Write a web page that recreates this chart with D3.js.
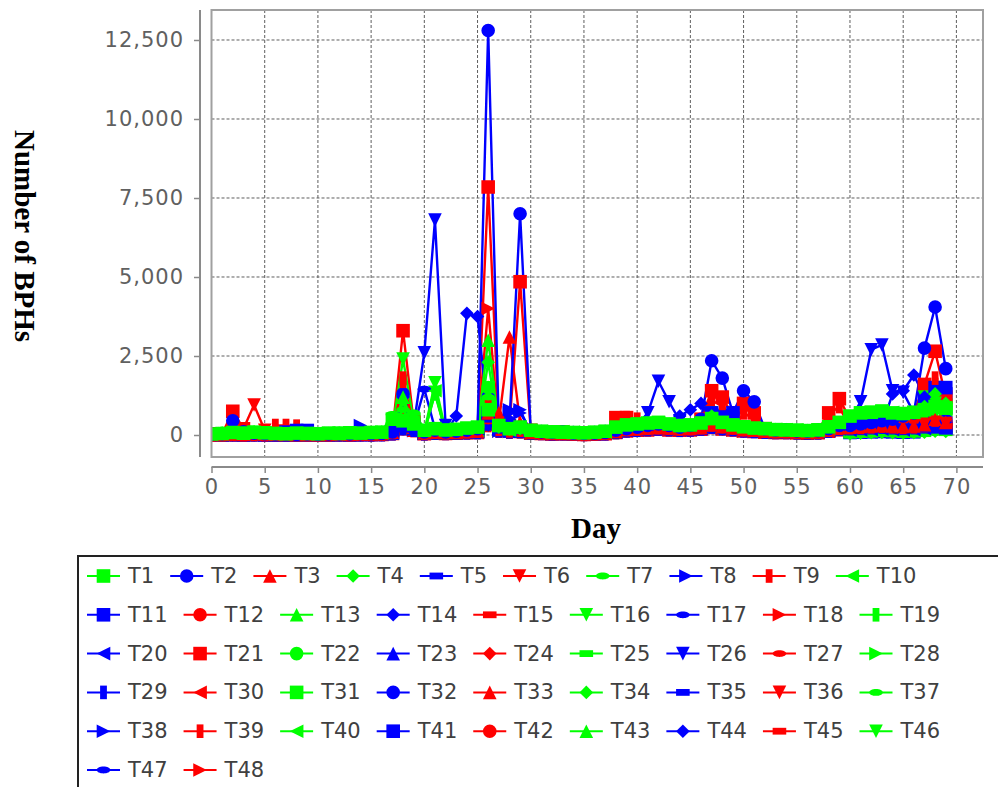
<!DOCTYPE html>
<html><head><meta charset="utf-8">
<script src="https://cdn.jsdelivr.net/npm/d3@7"></script>
<style>
body{margin:0;background:#fff;}
svg{display:block;}
</style></head>
<body>
<svg id="chart" width="998" height="787"></svg>
<script>
const days = [0,1,2,3,4,5,6,7,8,9,10,11,12,13,14,15,16,17,18,19,20,21,22,23,24,25,26,27,28,29,30,31,32,33,34,35,36,37,38,39,40,41,42,43,44,45,46,47,48,49,50,51,52,53,54,55,56,57,58,59,60,61,62,63,64,65,66,67,68,69];
const yTicks = [0,2500,5000,7500,10000,12500];
const xTicks = [0,5,10,15,20,25,30,35,40,45,50,55,60,65,70];
const seriesNames = ["T1","T2","T3","T4","T5","T6","T7","T8","T9","T10","T11","T12","T13","T14","T15","T16","T17","T18","T19","T20","T21","T22","T23","T24","T25","T26","T27","T28","T29","T30","T31","T32","T33","T34","T35","T36","T37","T38","T39","T40","T41","T42","T43","T44","T45","T46","T47","T48"];

const T1=[30,50,80,60,90,70,50,40,60,50,40,60,50,70,60,80,90,500,450,350,150,200,160,180,220,250,800,300,200,250,150,120,100,90,80,70,90,120,250,320,350,380,400,350,300,320,380,520,400,320,260,220,200,170,160,150,140,160,260,400,600,700,720,760,700,680,720,800,900,850];
const T2=[20,40,450,100,60,40,30,30,20,30,20,30,30,30,40,40,50,100,300,200,100,150,100,120,150,200,12800,300,400,7000,150,100,80,90,60,50,60,80,150,200,250,300,350,300,250,300,500,2350,1800,700,1400,1050,200,150,150,130,120,140,200,300,300,350,400,450,500,600,700,2750,4050,2100];
const T3=[10,20,30,20,40,30,20,20,10,20,10,20,30,20,30,30,40,90,500,250,70,100,80,90,110,130,700,400,3100,400,90,70,50,60,40,30,40,60,120,180,200,220,240,220,200,210,240,320,260,220,170,150,130,110,110,100,90,100,160,230,250,270,290,310,290,270,290,330,500,400];
const T4=[10,30,40,30,50,40,30,30,20,30,20,30,40,30,40,50,60,400,600,500,100,120,90,110,140,160,2300,250,180,200,110,90,70,80,60,50,70,90,180,260,300,330,360,320,290,310,360,600,380,300,240,200,180,150,150,130,120,140,230,320,520,620,680,720,660,620,680,900,1300,1000];
const T5=[0,10,20,10,20,10,10,200,250,250,10,10,20,10,20,20,30,60,200,150,50,80,60,70,90,100,500,150,120,130,80,60,50,50,40,30,40,50,100,150,180,200,220,200,180,190,220,300,230,200,160,140,120,100,100,90,80,90,150,220,250,260,280,300,280,260,250,200,150,120];
const T6=[20,30,100,200,950,150,30,30,20,30,20,30,30,30,40,40,50,100,400,300,80,110,90,100,120,140,600,200,150,170,100,80,60,70,50,40,50,70,140,200,220,240,260,240,220,230,260,340,270,230,180,160,140,120,120,110,100,110,170,240,260,280,300,320,300,280,300,340,400,360];
const T7=[50,60,100,80,120,90,70,60,50,60,50,50,60,60,70,70,100,650,800,700,200,250,200,220,260,300,1200,350,250,300,180,150,130,110,100,90,100,140,260,350,380,420,450,400,350,360,420,550,450,380,300,250,230,200,190,170,160,180,280,420,650,780,800,820,760,720,780,850,950,900];
const T8=[10,20,30,20,30,20,10,10,10,20,10,20,20,30,300,40,50,100,250,180,70,100,80,90,110,130,600,250,800,700,150,100,60,70,50,40,50,70,140,200,220,240,260,240,220,230,260,350,280,240,190,160,140,120,120,100,100,110,180,270,300,320,340,360,330,310,330,380,450,400];
const T9=[0,10,20,10,20,10,300,300,280,10,10,10,20,10,20,20,30,80,1700,300,60,90,70,80,100,120,1000,180,130,150,80,60,50,50,40,30,40,60,110,170,190,210,230,210,190,200,230,1300,1000,300,900,600,120,100,100,90,80,90,150,210,230,240,260,280,260,240,260,300,1800,1000];
const T10=[0,20,30,20,40,30,20,20,10,20,10,20,30,20,30,40,50,300,400,300,80,1400,80,100,120,140,1500,200,150,150,100,80,60,70,50,40,60,80,160,220,250,280,300,280,250,270,300,400,330,280,220,180,160,140,140,120,110,130,200,300,480,560,600,650,620,580,640,720,850,800];
const T11=[0,10,20,10,20,10,10,10,0,10,0,10,20,10,20,20,30,70,400,250,60,90,70,80,100,120,700,180,130,150,90,70,50,60,40,30,40,60,120,180,200,220,240,220,200,210,240,700,600,700,180,150,130,110,110,100,90,100,160,240,280,300,300,320,300,280,300,900,1500,1500];
const T12=[10,20,40,30,40,30,20,20,10,20,10,20,30,20,30,30,40,90,350,250,70,100,80,90,110,130,550,200,150,160,90,70,50,60,40,30,40,60,120,180,200,220,240,220,200,210,240,320,260,220,170,150,130,110,110,100,90,100,160,230,250,260,280,300,280,260,280,320,380,350];
const T13=[40,60,90,70,100,80,60,60,40,50,40,50,60,50,60,70,90,180,1200,300,120,160,130,150,180,200,3000,280,200,220,130,110,90,100,80,70,80,110,220,300,320,350,380,340,300,310,350,480,380,320,260,220,200,170,170,150,140,160,260,380,560,640,700,730,680,650,700,780,1100,900];
const T14=[0,0,10,0,10,0,0,0,0,0,0,0,10,0,10,10,20,60,700,200,50,80,60,600,3850,3750,500,150,110,120,70,60,40,50,30,20,30,50,100,160,180,200,220,300,600,800,1000,500,400,300,160,130,110,90,90,80,70,80,130,200,250,260,280,300,1300,1400,1900,1200,900,700];
const T15=[0,10,20,10,20,10,10,10,0,10,0,10,20,10,20,20,30,60,250,180,50,80,60,70,90,100,450,150,110,120,70,60,40,50,30,20,30,50,100,150,170,190,210,190,170,180,210,280,220,190,150,130,110,100,100,90,80,90,140,200,210,220,240,260,240,220,240,280,330,300];
const T16=[20,40,60,40,70,50,40,40,30,40,30,40,50,40,50,60,70,200,2400,400,100,1650,120,150,180,200,900,250,180,200,120,100,80,90,70,60,70,100,200,280,300,330,360,320,280,300,340,700,360,300,240,200,190,160,160,140,130,150,240,360,540,620,660,700,660,620,680,1200,1000,850];
const T17=[10,20,30,20,30,20,20,20,10,20,10,20,20,20,30,30,40,80,350,250,1450,200,80,90,110,130,600,200,150,160,100,80,60,70,50,40,50,70,130,190,210,230,250,230,210,220,250,330,260,220,180,150,130,110,110,100,90,100,160,230,260,280,300,320,300,280,300,350,400,380];
const T18=[10,10,20,10,30,20,10,10,10,10,10,10,20,10,30,30,30,70,300,200,60,90,70,80,100,110,4000,170,130,140,80,70,50,60,40,30,40,60,110,170,190,210,230,210,190,200,230,300,240,210,160,140,120,100,100,90,80,90,150,210,230,240,260,280,260,240,260,300,350,320];
const T19=[10,20,40,30,50,40,30,30,20,30,20,30,40,30,40,40,50,150,900,250,90,1300,90,110,130,150,800,220,160,170,100,80,60,70,60,50,60,80,170,240,270,290,320,290,260,280,320,450,340,290,230,190,170,150,150,130,120,140,220,330,500,580,620,660,620,590,640,700,800,780];
const T20=[0,10,10,10,20,10,10,10,0,10,0,10,10,10,20,20,20,50,250,180,50,70,60,70,80,100,400,150,120,130,70,60,40,50,30,20,30,50,90,140,160,180,200,180,160,170,200,260,210,180,140,120,100,90,90,80,70,80,130,190,150,160,170,180,170,160,170,200,250,220];
const T21=[20,30,750,200,60,40,30,30,20,30,20,30,30,30,40,40,50,100,3300,400,100,150,100,120,150,200,7850,300,300,4850,150,100,80,90,60,50,60,80,550,550,300,300,320,300,280,300,500,1400,1200,600,1000,700,200,150,150,130,120,140,700,1150,500,600,650,700,650,600,700,1600,2650,1200];
const T22=[30,50,70,50,80,60,50,50,30,40,30,40,50,40,50,60,80,160,700,350,110,140,110,130,160,180,1500,260,190,210,120,100,80,90,70,60,70,100,190,260,290,310,340,300,270,290,330,460,350,300,240,200,180,160,150,140,130,150,240,350,520,600,640,680,640,600,660,740,850,820];
const T23=[10,10,20,10,20,20,10,10,10,10,10,10,20,10,20,20,30,60,300,200,60,90,70,80,100,110,500,170,130,140,80,70,50,60,40,30,40,60,110,170,190,210,230,210,190,200,230,300,240,210,160,140,120,100,100,90,80,90,150,210,230,240,260,280,260,240,260,300,350,320];
const T24=[10,20,30,20,30,20,20,20,10,20,10,20,20,20,30,30,40,80,300,220,60,90,70,80,100,120,500,180,130,150,90,70,50,60,40,30,40,60,120,170,190,210,230,210,190,200,230,310,250,210,160,140,120,100,100,90,80,90,150,220,240,250,270,290,270,250,270,310,360,330];
const T25=[60,70,110,90,130,100,80,70,60,70,60,60,70,70,80,80,110,280,650,600,220,260,210,240,280,320,1100,360,260,320,190,160,140,120,110,100,110,150,280,360,400,430,460,420,370,380,430,560,460,390,310,260,240,210,200,180,170,190,290,440,680,800,820,840,780,740,800,880,1000,950];
const T26=[0,10,10,0,10,10,0,0,0,10,0,10,10,10,10,10,20,50,200,300,2600,6800,300,100,100,120,300,150,120,130,70,60,40,50,30,20,30,50,100,150,300,700,1700,1050,450,200,200,250,200,180,140,120,100,90,90,80,70,80,130,200,500,1050,2700,2850,1400,1350,700,400,300,250];
const T27=[0,10,20,10,20,10,10,10,0,10,0,10,10,10,20,20,20,50,220,160,40,70,50,60,80,90,400,140,100,110,60,50,30,40,30,20,30,40,90,140,160,180,200,180,160,170,200,260,200,170,130,110,90,80,80,70,60,70,120,180,200,210,230,250,230,210,230,260,300,280];
const T28=[0,10,20,10,30,20,10,10,0,10,0,10,20,10,20,30,40,80,300,200,60,100,70,80,100,120,600,150,110,120,80,60,50,50,40,30,40,60,130,200,220,240,260,240,220,230,260,350,280,240,200,160,140,120,120,100,100,110,180,270,420,500,540,580,540,520,560,640,750,700];
const T29=[0,0,10,0,10,0,0,0,0,0,0,0,10,0,10,10,10,40,200,150,40,60,50,60,70,80,350,130,100,110,60,50,30,40,30,20,30,40,80,130,150,170,190,170,150,160,190,250,200,170,130,110,90,80,80,70,60,70,120,180,200,210,230,250,230,210,230,260,300,280];
const T30=[10,10,20,10,30,20,10,10,10,10,10,10,20,10,20,20,30,60,260,190,50,80,60,70,90,100,450,150,120,130,70,60,40,50,30,20,30,50,100,150,170,190,210,190,170,180,210,280,220,190,150,130,110,100,100,90,80,90,140,200,220,230,250,270,250,230,250,290,340,310];
const T31=[20,30,50,40,60,50,40,30,20,30,20,30,40,30,40,50,60,130,500,300,90,130,100,120,150,170,700,220,160,180,110,90,70,80,60,50,60,90,170,250,280,300,330,300,270,280,320,430,340,290,230,190,170,150,140,130,120,140,220,320,100,120,130,150,140,120,130,150,200,180];
const T32=[20,30,50,30,50,40,30,30,20,30,20,30,40,30,40,40,50,120,1300,350,120,160,130,150,180,200,1200,250,200,220,130,110,90,100,80,70,80,110,200,260,280,300,320,300,280,290,320,400,330,290,230,200,180,160,150,140,130,150,230,330,350,360,380,400,380,360,600,800,900,700];
const T33=[0,10,20,10,20,10,10,10,0,10,0,10,10,10,20,20,20,50,200,150,40,60,50,60,70,80,350,700,130,110,60,50,30,40,30,20,30,40,80,130,150,160,180,160,150,160,180,240,190,160,130,110,90,80,80,70,60,70,120,170,180,190,210,230,210,190,210,240,280,260];
const T34=[40,50,70,60,80,70,50,50,40,50,40,50,50,50,60,60,80,170,550,400,130,170,140,160,190,210,500,280,200,230,140,110,90,100,80,70,80,110,210,290,310,340,370,330,300,310,350,470,370,310,250,210,190,170,160,150,140,160,250,360,40,60,70,80,70,60,70,90,120,110];
const T35=[10,10,20,10,20,10,10,10,10,10,10,10,20,10,20,20,30,60,220,160,50,80,60,70,90,100,450,150,120,130,80,60,50,50,40,30,40,50,100,150,170,190,210,190,170,180,210,280,220,190,150,130,110,100,100,90,80,90,140,200,400,420,440,460,440,400,420,460,500,480];
const T36=[10,20,30,20,40,30,20,20,10,20,10,20,30,20,30,30,40,80,320,230,60,90,70,80,100,120,500,180,140,150,90,70,50,60,40,30,40,60,120,170,190,210,230,210,190,200,230,310,250,210,160,140,120,100,100,90,80,90,150,220,240,250,270,290,270,250,270,310,360,330];
const T37=[10,20,30,20,40,30,20,20,10,20,10,20,30,20,30,30,40,110,450,250,80,110,80,100,120,140,600,200,150,160,100,80,60,70,50,40,50,80,150,220,250,270,300,270,250,260,290,400,310,270,210,180,160,140,140,120,110,130,200,300,460,540,580,620,580,560,600,680,780,740];
const T38=[0,10,10,10,10,10,0,0,0,10,0,10,10,10,20,20,20,50,180,140,40,60,50,60,70,80,300,120,700,800,60,50,30,40,30,20,30,40,80,130,150,160,180,160,150,160,180,240,190,160,130,110,90,80,80,70,60,70,120,170,180,190,210,230,210,200,210,240,280,260];
const T39=[0,10,10,0,10,10,0,0,0,10,0,10,10,10,10,10,20,40,1800,140,40,60,50,60,70,80,300,120,90,100,60,50,30,40,30,20,30,40,80,550,500,170,190,170,150,160,190,1100,900,170,700,500,90,80,80,70,60,70,650,900,200,210,230,250,230,210,230,1300,1600,1400];
const T40=[50,60,80,70,90,80,60,60,50,60,50,60,60,60,70,70,90,190,600,450,140,180,150,170,200,220,450,290,210,240,150,120,100,110,90,80,90,120,220,300,330,360,390,350,310,320,360,490,390,330,270,230,210,180,170,160,150,170,270,380,580,680,720,760,720,680,740,820,1000,950];
const T41=[10,20,30,20,30,20,20,20,10,20,10,20,20,20,30,30,40,90,380,260,70,100,80,90,110,130,650,200,150,170,100,80,60,70,50,40,50,70,140,190,210,230,250,230,210,220,250,650,550,300,180,150,130,110,110,100,90,100,170,240,80,90,100,110,100,90,100,1300,1400,1300];
const T42=[10,10,20,10,20,20,10,10,10,10,10,10,20,10,20,20,30,60,240,170,50,80,60,70,90,100,400,150,110,120,70,60,40,50,30,20,30,50,90,140,160,180,200,180,160,170,200,270,210,180,140,120,100,90,90,80,70,80,130,190,210,220,240,260,240,220,240,270,320,300];
const T43=[20,30,50,40,60,50,40,40,30,40,30,40,40,40,50,50,70,140,400,300,100,130,100,120,140,160,350,230,170,190,110,90,70,80,70,60,70,90,180,250,280,300,330,300,270,280,310,420,330,280,230,190,170,150,150,130,120,140,220,320,490,560,600,640,600,570,620,700,1400,800];
const T44=[0,10,10,10,20,10,10,10,0,10,0,10,10,10,20,20,20,60,1200,190,50,70,60,70,80,100,400,150,120,130,70,60,40,50,30,20,30,50,100,140,160,180,200,180,160,170,190,260,200,170,140,120,100,90,90,80,70,80,130,190,210,220,240,260,240,220,240,280,330,300];
const T45=[0,10,10,10,20,10,10,10,0,10,0,10,10,10,20,20,20,50,600,170,40,70,50,60,80,90,350,130,100,110,60,50,30,40,30,20,30,40,90,130,150,170,190,170,150,160,190,250,200,170,130,110,90,80,80,70,60,70,120,170,190,200,220,240,220,200,220,250,290,270];
const T46=[30,40,60,50,70,60,40,40,30,40,30,40,50,40,50,60,70,150,350,300,100,1350,110,130,160,180,400,240,180,200,120,100,80,90,70,60,70,100,190,260,290,310,340,310,280,290,320,440,350,300,240,200,180,160,150,140,130,150,230,340,510,590,630,670,630,600,650,760,900,850];
const T47=[10,10,20,10,20,20,10,10,10,10,10,10,20,10,20,20,30,70,260,180,60,90,70,80,100,110,500,170,130,140,80,70,50,60,40,30,40,60,110,170,190,210,230,210,190,200,230,300,240,210,160,140,120,100,100,90,80,90,150,210,30,40,50,60,50,40,50,70,90,80];
const T48=[10,10,20,10,20,10,10,10,10,10,10,10,20,10,20,20,30,60,230,160,50,80,60,70,90,100,380,140,110,120,70,60,40,50,30,20,30,50,90,140,160,180,200,180,160,170,200,260,200,170,130,110,90,80,80,70,60,70,120,180,200,210,230,250,230,210,230,260,300,280];

const seriesValues = [T1,T2,T3,T4,T5,T6,T7,T8,T9,T10,T11,T12,T13,T14,T15,T16,T17,T18,T19,T20,T21,T22,T23,T24,T25,T26,T27,T28,T29,T30,T31,T32,T33,T34,T35,T36,T37,T38,T39,T40,T41,T42,T43,T44,T45,T46,T47,T48];
const palette = ["#00ff00","#0000ff","#ff0000"];
const shapeKinds = ["square","circle","up","diamond","hrect","down","hellipse","right","vrect","left"];

const series = seriesNames.map((n,i)=>({name:n, values:seriesValues[i], color:palette[i%3], shape:shapeKinds[i%10]}));

const svg = d3.select("#chart");
const L=211.5, R=983, T=10, B=457;
const x = d3.scaleLinear().domain([0,72.5]).range([L,R]);
const y = d3.scaleLinear().domain([-696,13449]).range([B,T]);

const H = 6.8;
function shapePath(kind,h){
  const p = d3.path();
  switch(kind){
    case "square": p.rect(-h,-h,2*h,2*h); break;
    case "circle": p.moveTo(h,0); p.arc(0,0,h,0,2*Math.PI); break;
    case "up": p.moveTo(0,-h); p.lineTo(h,h); p.lineTo(-h,h); p.closePath(); break;
    case "diamond": p.moveTo(0,-h); p.lineTo(h,0); p.lineTo(0,h); p.lineTo(-h,0); p.closePath(); break;
    case "hrect": p.rect(-h,-h/2,2*h,h); break;
    case "down": p.moveTo(-h,-h); p.lineTo(h,-h); p.lineTo(0,h); p.closePath(); break;
    case "hellipse": { const k=0.5523; const a=h,b=h/2; p.moveTo(a,0); p.bezierCurveTo(a,b*k,a*k,b,0,b); p.bezierCurveTo(-a*k,b,-a,b*k,-a,0); p.bezierCurveTo(-a,-b*k,-a*k,-b,0,-b); p.bezierCurveTo(a*k,-b,a,-b*k,a,0); p.closePath(); break; }
    case "right": p.moveTo(-h,-h); p.lineTo(h,0); p.lineTo(-h,h); p.closePath(); break;
    case "vrect": p.rect(-h/2,-h,h,2*h); break;
    case "left": p.moveTo(-h,0); p.lineTo(h,-h); p.lineTo(h,h); p.closePath(); break;
  }
  return p.toString();
}

// grid
const grid = svg.append("g");
grid.selectAll("line.v").data(xTicks).join("line")
  .attr("x1",d=>x(d)).attr("x2",d=>x(d)).attr("y1",T).attr("y2",B)
  .attr("stroke","#5e5e5e").attr("stroke-width",1).attr("stroke-dasharray","3,2");
grid.selectAll("line.h").data(yTicks).join("line")
  .attr("x1",L).attr("x2",R).attr("y1",d=>y(d)).attr("y2",d=>y(d))
  .attr("stroke","#5e5e5e").attr("stroke-width",1).attr("stroke-dasharray","3,2");

// plot content: all lines first, then all shapes, series in reverse order
const defs = svg.append("defs");
defs.append("clipPath").attr("id","clip").append("rect").attr("x",L).attr("y",T).attr("width",R-L).attr("height",B-T);
const plot = svg.append("g").attr("clip-path","url(#clip)");
const order = series.slice().reverse();
const line = d3.line().x((d,i)=>x(days[i])).y(d=>y(d));
plot.selectAll("path.ln").data(order).join("path")
  .attr("fill","none").attr("stroke",d=>d.color).attr("stroke-width",2.4).attr("stroke-linejoin","round")
  .attr("d",d=>line(d.values));
order.forEach(s=>{
  plot.append("g").selectAll("path").data(s.values).join("path")
    .attr("transform",(d,i)=>`translate(${x(days[i])},${y(d)})`)
    .attr("d",shapePath(s.shape,H)).attr("fill",s.color);
});

// plot border
svg.append("rect").attr("x",L).attr("y",T).attr("width",R-L).attr("height",B-T)
  .attr("fill","none").attr("stroke","#a0a0a0").attr("stroke-width",2);

// axes
const fontTick = "DejaVu Sans, sans-serif";
const yAxis = svg.append("g").attr("transform","translate(200,0)")
  .call(d3.axisLeft(y).tickValues(yTicks).tickFormat(d3.format(",")).tickSizeOuter(0).tickSizeInner(6).tickPadding(10));
yAxis.select(".domain").attr("stroke","#8a8a8a").attr("stroke-width",2).attr("d",`M0,${T}V${B}`);
yAxis.selectAll(".tick line").attr("stroke","#8a8a8a").attr("stroke-width",1.5);
yAxis.selectAll(".tick text").attr("fill","#606060").style("font-family",fontTick).style("font-size","21px").style("letter-spacing","1px");

const xAxis = svg.append("g").attr("transform","translate(0,467)")
  .call(d3.axisBottom(x).tickValues(xTicks).tickSizeOuter(0).tickSizeInner(6).tickPadding(6));
xAxis.select(".domain").attr("stroke","#8a8a8a").attr("stroke-width",2).attr("d",`M${L},0H${R}`);
xAxis.selectAll(".tick line").attr("stroke","#8a8a8a").attr("stroke-width",1.5);
xAxis.selectAll(".tick text").attr("fill","#606060").style("font-family",fontTick).style("font-size","21px").style("letter-spacing","1px");

// axis titles
svg.append("text").attr("transform","translate(25,236) rotate(90)")
  .attr("text-anchor","middle").attr("dominant-baseline","central")
  .style("font-family","Liberation Serif, Times New Roman, serif").style("font-weight","bold").style("font-size","29px")
  .text("Number of BPHs");
svg.append("text").attr("x",596).attr("y",538).attr("text-anchor","middle")
  .style("font-family","Liberation Serif, Times New Roman, serif").style("font-weight","bold").style("font-size","29px")
  .text("Day");

// legend
svg.append("rect").attr("x",78).attr("y",556).attr("width",960).attr("height",300)
  .attr("fill","none").attr("stroke","#222").attr("stroke-width",2);
const leg = svg.append("g");
let lx = 87, row = 0;
const rowY = r => 576 + r*38.8;
series.forEach((s,i)=>{
  const g = leg.append("g");
  const t = g.append("text").attr("x",41).attr("y",0).attr("dominant-baseline","central")
    .style("font-family",fontTick).style("font-size","21px").attr("fill","#404040").text(s.name);
  const w = t.node().getComputedTextLength();
  if (lx + 41 + w > 1000) { row++; lx = 87; }
  g.attr("transform",`translate(${lx},${rowY(row)})`);
  g.insert("line","text").attr("x1",0).attr("x2",33).attr("y1",0).attr("y2",0).attr("stroke",s.color).attr("stroke-width",2);
  g.insert("path","text").attr("transform","translate(16.5,0)").attr("d",shapePath(s.shape,H)).attr("fill",s.color);
  lx += 41 + w + 16;
});
</script>
</body></html>
